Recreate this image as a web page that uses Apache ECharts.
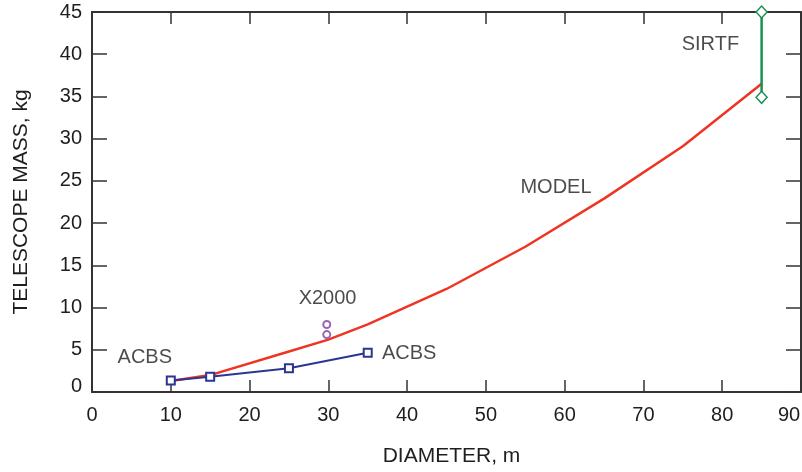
<!DOCTYPE html>
<html><head><meta charset="utf-8">
<script src="https://cdn.jsdelivr.net/npm/echarts@6/dist/echarts.min.js"></script>
<style>html,body{margin:0;padding:0;background:#fff}#c{width:802px;height:472px}</style>
</head><body><div id="c"></div>
<script>
// MODEL curve
const modelX = [10, 15, 25, 30, 35, 45, 55, 65, 75, 85];
const modelY = [1.3, 2.0, 4.8, 6.2, 8.0, 12.2, 17.2, 22.9, 29.1, 36.5];
// ACBS measured
const acbsX = [10, 15, 25, 35];
const acbsY = [1.35, 1.8, 2.8, 4.65];
// X2000
const x2000X = [29.8, 29.8];
const x2000Y = [8.0, 6.8];
// SIRTF
const sirtfX = [85, 85];
const sirtfY = [45, 34.9];
// annotations
const noteText = ['ACBS', 'ACBS', 'X2000', 'MODEL', 'SIRTF'];
const noteX = [6.7, 36.8, 29.9, 58.9, 78.5];
const noteY = [4.1, 4.6, 11.1, 24.2, 41.2];
const noteAlign = ['center', 'left', 'center', 'center', 'center'];

const FONT = 'Liberation Sans, Arial, sans-serif';
const TXT = '#1e1e1e';
const zip = (xs, ys) => xs.map((x, i) => [x, ys[i]]);

const chart = echarts.init(document.getElementById('c'));
const axisLine = { show: true, onZero: false, lineStyle: { color: '#333', width: 2 } };
const tickStyle = { color: '#333', width: 1.5 };
chart.setOption({
  animation: false,
  grid: { left: 92, right: 1, top: 12, bottom: 80, containLabel: false, outerBoundsMode: 'none' },
  xAxis: [{
    type: 'value', min: 0, max: 90, interval: 10, position: 'bottom',
    axisLine, splitLine: { show: false },
    axisTick: { inside: true, length: 12, lineStyle: tickStyle },
    axisLabel: { fontFamily: FONT, fontSize: 20, color: TXT, margin: 13,
      formatter: v => v === 90 ? '{e|90}' : String(v),
      rich: { e: { fontFamily: FONT, fontSize: 20, color: TXT, padding: [0, 24, 0, 0] } } },
    name: 'DIAMETER, m', nameLocation: 'middle', nameGap: 54,
    nameTextStyle: { fontFamily: FONT, fontSize: 21, color: TXT, padding: [0, 0, 0, 10] }
  }, {
    type: 'value', min: 0, max: 90, interval: 10, position: 'top',
    axisLine, splitLine: { show: false },
    axisTick: { inside: true, length: 12, lineStyle: tickStyle },
    axisLabel: { show: false }
  }],
  yAxis: [{
    type: 'value', min: 0, max: 45, interval: 5, position: 'left',
    axisLine, splitLine: { show: false },
    axisTick: { inside: true, length: 15, lineStyle: tickStyle },
    axisLabel: {
      fontFamily: FONT, fontSize: 20, color: TXT, margin: 10,
      formatter: v => v === 0 ? '{z|0}' : String(v),
      rich: { z: { fontFamily: FONT, fontSize: 20, color: TXT, padding: [0, 0, 12, 0] } }
    },
    name: 'TELESCOPE MASS, kg', nameLocation: 'middle', nameGap: 60,
    nameTextStyle: { fontFamily: FONT, fontSize: 21, color: TXT }
  }, {
    type: 'value', min: 0, max: 45, interval: 5, position: 'right',
    axisLine, splitLine: { show: false },
    axisTick: { inside: true, length: 15, lineStyle: tickStyle },
    axisLabel: { show: false }
  }],
  series: [{
    type: 'line', data: zip(modelX, modelY), showSymbol: false, symbol: 'none',
    lineStyle: { color: '#ee3524', width: 2.5 }, z: 3
  }, {
    type: 'line', data: zip(acbsX, acbsY), symbol: 'rect', symbolSize: 8,
    lineStyle: { color: '#2b3592', width: 2 },
    itemStyle: { color: '#fff', borderColor: '#2b3592', borderWidth: 2 }, z: 4
  }, {
    type: 'line', data: zip(x2000X, x2000Y), symbol: 'circle', symbolSize: 7,
    lineStyle: { width: 0, opacity: 0 },
    itemStyle: { color: '#fff', borderColor: '#9a64b4', borderWidth: 2 }, z: 4
  }, {
    type: 'line', data: zip(sirtfX, sirtfY), symbol: 'diamond', symbolSize: [11, 12],
    lineStyle: { color: '#1a9150', width: 2.5 },
    itemStyle: { color: '#fff', borderColor: '#1a9150', borderWidth: 1.5 }, z: 5
  }, {
    type: 'scatter', symbolSize: 0, silent: true,
    data: noteText.map((t, i) => ({ value: [noteX[i], noteY[i]], name: t,
      label: { align: noteAlign[i] } })),
    label: { show: true, position: 'inside', formatter: p => p.name,
      fontFamily: FONT, fontSize: 20, color: TXT }
  }]
});
</script></body></html>
